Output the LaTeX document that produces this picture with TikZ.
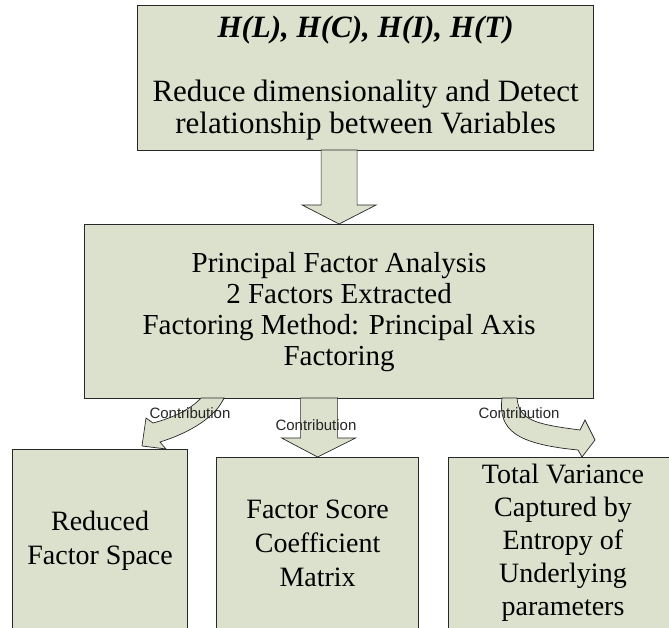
\documentclass[tikz,border=0pt]{standalone}
\usepackage{fontspec}
\setmainfont{Liberation Serif}
\newfontfamily\labelfont{Liberation Sans}
\usetikzlibrary{calc}
\definecolor{boxfill}{RGB}{219,225,204}
\definecolor{boxline}{RGB}{40,40,40}
\begin{document}
\begin{tikzpicture}[x=1pt,y=-1pt,
  box/.style={draw=boxline, fill=boxfill, line width=1.2pt, align=center, inner sep=0pt, anchor=north west},
  boxtext/.style={align=center, inner sep=0pt},
  blockarrow/.style={draw=boxline, fill=boxfill, line width=0.7pt, line join=miter},
  lab/.style={font=\labelfont\fontsize{15}{15}\selectfont, text=black!85, inner sep=0pt}]
\useasboundingbox (0,0) rectangle (669,628);
\clip (0,0) rectangle (669,628);

% boxes
\node[box, minimum width=456pt, minimum height=145pt, font=\fontsize{31}{32}\selectfont] (top) at (137,5)
  {{\bfseries\itshape H(L), H(C), H(I), H(T)}\\[32pt]
   Reduce dimensionality and Detect\\
   relationship between Variables};
\node[box, minimum width=509pt, minimum height=174pt, font=\fontsize{29}{31}\selectfont] (mid) at (84,224)
  {Principal Factor Analysis\\
   2 Factors Extracted\\
   Factoring Method: Principal Axis\\
   Factoring};
\node[box, minimum width=175pt, minimum height=182pt, font=\fontsize{28}{34}\selectfont] (bleft) at (12,449)
  {Reduced\\
   Factor Space};
\node[box, minimum width=202pt, minimum height=172pt, font=\fontsize{28}{34}\selectfont] (bmid) at (216,457)
  {Factor Score\\
   Coefficient\\
   Matrix};
\node[box, minimum width=230pt, minimum height=185pt] (bright) at (448,457) {};
\node[boxtext, font=\fontsize{28}{33}\selectfont] (brighttext) at (563,543)
  {Total Variance\\
   Captured by\\
   Entropy of\\
   Underlying\\
   parameters};

% top block arrow (top -> mid)
\draw[blockarrow] ($(mid.north)+(-18,-74)$) -- ($(mid.north)+(-18,-19)$)
  -- ($(mid.north)+(-37,-19)$) -- (mid.north) -- ($(mid.north)+(37,-19)$)
  -- ($(mid.north)+(18,-19)$) -- ($(mid.north)+(18,-74)$) -- cycle;

% middle block arrow (mid -> bmid)
\draw[blockarrow] ($(bmid.north)+(-17,-59)$) -- ($(bmid.north)+(-17,-19)$)
  -- ($(bmid.north)+(-36,-19)$) -- (bmid.north) -- ($(bmid.north)+(38,-19)$)
  -- ($(bmid.north)+(20,-19)$) -- ($(bmid.north)+(20,-59)$) -- cycle;

% left curved arrow (mid -> bleft)
\draw[blockarrow] (201,398) .. controls (190,410) and (172,418) .. (153,423)
  -- (146,418) -- (142,446) -- (166,449) -- (160,442)
  .. controls (192,432) and (216,416) .. (224,398) -- cycle;

% right curved arrow (mid -> bright)
\draw[blockarrow] (502,398) .. controls (498,430) and (516,444) .. (578,450)
  -- (582,457) -- (595,440) -- (585,420) -- (580,430)
  .. controls (534,424) and (519,420) .. (517,398) -- cycle;

% labels
\node[lab] (c1) at (190,413) {Contribution};
\node[lab] (c2) at (316,425) {Contribution};
\node[lab] (c3) at (519,413) {Contribution};
\end{tikzpicture}
\end{document}
